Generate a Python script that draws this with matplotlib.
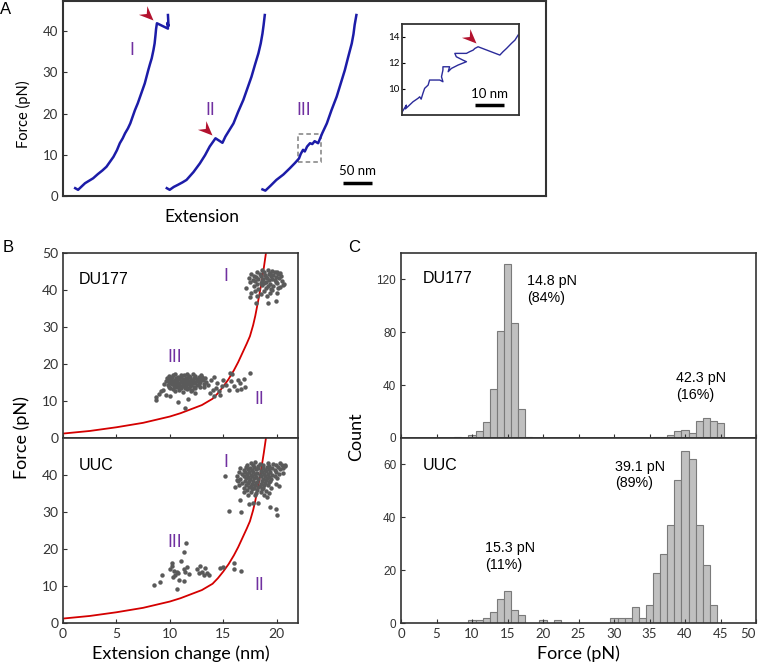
import numpy as np
import matplotlib.pyplot as plt
from matplotlib.patches import Rectangle
from matplotlib.path import Path

plt.rcParams['font.family'] = ['Lato', 'DejaVu Sans']

# ---------------- panel A: force-extension traces (nm, pN) ----------------
trace1_x = [21, 26, 32, 38, 45, 52, 60, 68, 75, 81, 87, 93, 98, 103, 107, 112, 116, 120, 124, 129,
            133, 137, 141, 144, 147, 150, 153, 156, 158, 159.5, 160.5, 162, 181, 180, 182, 181]
trace1_f = [1.9, 1.5, 2.3, 3.1, 3.7, 4.3, 5.3, 6.2, 7.1, 8.3, 9.5, 11.1, 12.8, 14.0, 15.2, 16.4,
            17.6, 19.2, 20.8, 22.5, 24.1, 25.7, 27.3, 28.9, 30.5, 32.0, 33.4, 35.4, 37.0, 39.0, 40.5,
            41.9, 40.6, 42.0, 41.2, 43.9]
trace2_x = [179, 184, 191, 198, 206, 213, 225, 236, 245, 253, 258, 263, 275, 280, 287, 294, 302,
            311, 318, 325, 331, 337, 341, 344, 346, 348]
trace2_f = [1.9, 1.5, 2.2, 2.7, 3.3, 3.9, 5.8, 7.9, 9.9, 12.0, 13.0, 14.0, 12.9, 14.4, 16.0, 17.6,
            20.4, 23.3, 26.1, 28.9, 31.8, 34.6, 37.0, 39.4, 41.5, 43.9]
trace3_x = [344, 349, 358, 368, 380, 391, 400, 407, 410, 414, 417, 421, 426, 430, 434, 440, 447,
            455, 463, 472, 479, 486, 492, 498, 501, 503, 506]
trace3_f = [1.6, 1.3, 2.5, 3.9, 5.2, 6.7, 8.0, 9.1, 10.2, 11.2, 10.8, 12.0, 12.8, 12.6, 13.3, 12.8,
            15.2, 17.6, 20.8, 24.1, 27.3, 30.5, 33.8, 37.0, 39.3, 41.5, 43.9]

# inset: zoom of the boxed region of trace III
inset_x = [0.1, 1.5, 1.2, 3.8, 5.5, 6.1, 6.6, 7.2, 7.8, 9.0, 9.5, 13.0, 14.1, 13.6, 14.1, 14.1, 16.4,
           15.9, 17.0, 19.3, 22.2, 21.0, 18.7, 18.2, 22.2, 23.3, 24.5, 25.1, 26.2, 33.7, 34.8, 36.0,
           37.7, 38.9, 40.0]
inset_f = [8.23, 8.74, 8.45, 9.0, 9.26, 9.38, 9.2, 9.64, 10.03, 10.28, 10.67, 10.67, 10.54, 10.92,
           11.44, 11.69, 11.69, 11.31, 11.56, 11.82, 12.08, 12.2, 12.46, 12.72, 12.72, 12.85, 12.97,
           13.1, 13.23, 12.59, 12.85, 13.1, 13.49, 13.74, 14.13]

# ---------------- panel B: rupture events (extension change nm, force pN) ----------------
wlc_x = [0, 2.5, 5, 7.5, 10, 11, 12, 13, 14, 14.5, 15, 15.5, 16, 16.4, 16.8, 17.2, 17.5, 17.8,
         18.0, 18.2, 18.4, 18.6, 18.8, 19.0]
wlc_f = [1.2, 1.9, 2.9, 4.1, 5.8, 6.7, 7.8, 8.9, 10.6, 12.1, 13.9, 15.9, 18.3, 20.5, 23.0, 25.5,
         27.5, 30.5, 33.0, 36.0, 39.0, 42.3, 46.0, 50.0]

du177_pts = [
    (17.1, 40.5), (17.5, 38.0), (18.1, 36.5), (19.9, 37.1), (20.6, 41.4), (20.0, 45.0), (18.6, 45.5),
    (19.2, 45.3), (19.6, 45.1), (18.2, 44.8), (18.8, 44.9), (19.4, 44.6), (19.8, 44.8), (20.3, 44.7),
    (17.6, 44.2), (18.4, 44.4), (18.9, 44.1), (19.3, 44.3), (19.7, 44.0), (20.1, 44.4),
    (17.9, 43.7), (18.5, 43.9), (19.0, 43.6), (19.5, 43.8), (19.9, 43.5), (20.4, 43.9),
    (17.4, 43.2), (18.1, 43.4), (18.7, 43.1), (19.1, 43.3), (19.6, 43.0), (20.2, 43.2),
    (17.8, 42.7), (18.3, 42.9), (18.6, 42.5), (19.3, 42.8), (19.8, 42.6),
    (17.5, 42.2), (18.0, 42.4), (18.5, 42.0), (19.0, 42.2), (19.9, 42.1), (20.5, 42.3),
    (18.2, 41.7), (18.8, 41.9), (19.4, 41.6), (20.0, 41.8), (20.7, 41.5),
    (17.9, 41.1), (18.6, 41.3), (19.2, 41.0), (19.7, 41.2), (20.3, 40.9),
    (18.3, 40.4), (19.0, 40.6), (19.5, 40.2), (20.1, 40.5),
    (18.0, 39.8), (18.8, 39.6), (19.6, 39.9), (17.6, 39.2), (18.5, 39.0), (19.4, 39.3), (20.0, 39.1),
    (18.2, 38.3), (19.1, 38.5), (19.2, 36.6),
    # III cluster
    (10.5, 17.3), (11.0, 17.1), (11.6, 17.4), (12.2, 17.2), (12.9, 17.0),
    (9.9, 16.7), (10.3, 16.9), (10.8, 16.6), (11.3, 16.9), (11.8, 16.7), (12.4, 16.8), (13.0, 16.6),
    (9.7, 16.3), (10.2, 16.5), (10.6, 16.2), (11.0, 16.4), (11.5, 16.3), (11.9, 16.5), (12.3, 16.2),
    (12.7, 16.4), (13.3, 16.3),
    (9.8, 15.9), (10.1, 16.1), (10.5, 15.8), (10.9, 16.0), (11.2, 15.9), (11.6, 16.1), (12.0, 15.8),
    (12.5, 16.0), (12.9, 15.9),
    (9.6, 15.5), (10.0, 15.7), (10.4, 15.4), (10.7, 15.6), (11.1, 15.5), (11.4, 15.7), (11.8, 15.4),
    (12.2, 15.6), (12.6, 15.5), (13.1, 15.6),
    (9.9, 15.1), (10.3, 15.3), (10.6, 15.0), (11.0, 15.2), (11.3, 15.1), (11.7, 15.3), (12.1, 15.0),
    (12.4, 15.2), (12.8, 15.1),
    (9.5, 14.7), (10.1, 14.9), (10.4, 14.6), (10.8, 14.8), (11.2, 14.7), (11.5, 14.9), (11.9, 14.6),
    (12.3, 14.8), (12.7, 14.7), (13.2, 14.5),
    (9.8, 14.3), (10.2, 14.5), (10.6, 14.2), (10.9, 14.4), (11.3, 14.3), (11.6, 14.5), (12.0, 14.2),
    (12.5, 14.3),
    (9.9, 13.9), (10.4, 14.1), (10.8, 13.8), (11.1, 14.0), (11.5, 13.9), (11.9, 14.1), (12.3, 13.8),
    (12.8, 13.9),
    (10.0, 13.5), (10.6, 13.7), (11.0, 13.4), (11.4, 13.6), (11.8, 13.5), (12.4, 13.6),
    (9.4, 13.1), (10.3, 13.2), (10.9, 13.0), (11.6, 13.2), (12.1, 13.1),
    (9.2, 12.6), (10.5, 12.8), (11.2, 12.5), (12.0, 12.7),
    (8.7, 11.2), (8.7, 10.3), (10.8, 9.7), (11.4, 8.1), (11.7, 10.5), (9.6, 11.7), (10.0, 11.4),
    (12.4, 12.2), (9.0, 12.0),
    # II cluster
    (17.5, 17.6), (16.9, 15.9), (16.6, 14.9), (15.8, 17.3), (15.7, 15.3), (16.0, 14.0), (15.3, 14.4),
    (14.9, 14.0), (14.6, 12.6), (14.7, 11.7), (14.3, 13.5), (14.0, 13.1), (13.8, 12.2), (13.6, 14.4),
    (14.1, 11.3), (15.0, 15.8), (16.3, 13.1), (16.4, 15.8), (14.4, 14.9), (14.1, 16.6), (15.6, 17.6),
    (13.4, 15.2), (13.2, 13.7), (15.5, 12.9), (17.0, 13.8), (16.7, 13.2), (13.9, 15.6),
]

uuc_pts = [
    (17.6, 43.2), (18.0, 43.4), (18.4, 43.1), (19.2, 43.3), (19.7, 43.0), (20.3, 43.2),
    (17.2, 42.6), (17.8, 42.8), (18.3, 42.5), (18.7, 42.7), (19.3, 42.4), (19.9, 42.6), (20.5, 42.8), (20.8, 42.5),
    (16.6, 42.0), (17.1, 42.2), (17.5, 41.9), (17.9, 42.1), (18.3, 41.8), (18.7, 42.0), (19.1, 42.2),
    (19.6, 41.9), (20.1, 42.1), (20.6, 41.8),
    (16.9, 41.4), (17.3, 41.6), (17.7, 41.3), (18.1, 41.5), (18.5, 41.2), (18.9, 41.4), (19.3, 41.6),
    (19.8, 41.3), (20.3, 41.5),
    (16.5, 40.8), (17.0, 40.9), (17.4, 40.7), (17.8, 40.9), (18.2, 40.6), (18.6, 40.8), (19.0, 41.0),
    (19.4, 40.7), (19.9, 40.9), (20.6, 40.6),
    (16.8, 40.2), (17.2, 40.4), (17.6, 40.1), (18.0, 40.3), (18.4, 40.0), (18.8, 40.2), (19.2, 40.4),
    (19.6, 40.1), (20.2, 40.3),
    (16.3, 39.6), (16.9, 39.7), (17.3, 39.5), (17.7, 39.7), (18.1, 39.4), (18.5, 39.6), (18.9, 39.8),
    (19.3, 39.5), (19.8, 39.7),
    (16.6, 39.0), (17.1, 39.1), (17.5, 38.9), (17.9, 39.1), (18.3, 38.8), (18.7, 39.0), (19.1, 39.2),
    (19.5, 38.9), (20.0, 39.1),
    (16.4, 38.4), (17.0, 38.5), (17.4, 38.3), (17.8, 38.5), (18.2, 38.2), (18.6, 38.4), (19.0, 38.6),
    (19.4, 38.3),
    (16.8, 37.8), (17.3, 37.9), (17.7, 37.7), (18.1, 37.9), (18.5, 37.6), (18.9, 37.8), (19.3, 38.0),
    (19.9, 37.7),
    (16.5, 37.2), (17.1, 37.3), (17.6, 37.1), (18.0, 37.3), (18.4, 37.0), (18.8, 37.2), (19.2, 37.4),
    (16.9, 36.6), (17.4, 36.7), (17.9, 36.5), (18.3, 36.7), (18.7, 36.4), (19.5, 36.6),
    (17.2, 36.0), (17.7, 36.1), (18.2, 35.9), (18.6, 36.1), (19.0, 35.8),
    (16.9, 35.3), (17.6, 35.4), (18.1, 35.2), (18.5, 35.4), (19.3, 35.1),
    (17.3, 34.6), (18.0, 34.7), (18.8, 34.5),
    (15.2, 39.8), (15.5, 30.4), (16.7, 29.9), (19.4, 31.4), (19.9, 30.8), (20.0, 29.2), (16.6, 33.3),
    (17.4, 32.1), (17.8, 32.4), (18.3, 32.4), (19.1, 34.1), (20.2, 36.9), (20.8, 42.7), (16.3, 38.7),
    (16.1, 36.7),
    # III / II events
    (11.5, 21.5), (11.3, 19.1), (11.06, 16.7), (10.2, 16.1), (10.2, 15.4), (9.3, 13.1), (9.1, 11.1),
    (8.5, 10.2), (10.0, 14.5), (10.4, 14.1), (10.7, 13.8), (10.5, 12.9), (10.8, 13.4), (10.3, 12.5),
    (11.3, 14.7), (11.4, 13.8), (11.6, 15.2), (11.8, 13.2), (10.9, 11.6), (11.3, 11.4), (10.7, 9.3),
    (12.5, 14.5), (12.8, 15.4), (12.7, 13.4), (13.0, 13.8), (13.3, 15.0), (13.5, 13.6), (13.2, 12.9),
    (13.7, 12.9), (14.7, 15.0), (15.0, 15.2), (16.0, 16.1), (16.0, 14.7), (16.7, 14.0),
]

# ---------------- panel C: force histograms (1 pN bins) ----------------
du177_bins = [8, 10, 11, 12, 13, 14, 15, 16, 17, 18, 36, 37, 38, 39, 40, 41, 42, 43, 44, 45]
du177_counts = [1, 2, 5, 12, 37, 81, 132, 87, 22, 1, 1, 1, 2, 5, 6, 4, 13, 15, 13, 11]
uuc_bins = [10, 11, 12, 13, 14, 15, 16, 17, 20, 22, 30, 31, 32, 33, 34, 35, 36, 37, 38, 39, 40, 41, 42, 43, 44]
uuc_counts = [1, 1, 2, 4, 9, 12, 5, 3, 1, 1, 2, 2, 2, 6, 2, 7, 19, 26, 37, 54, 65, 62, 37, 22, 7]

blue = '#1c1ca8'
purple = '#7030a0'
arrow_red = '#b3122e'
spine_c = '#333333'
W, H = 761, 668


def box(l, t, r, b):
    return [l / W, 1 - b / H, (r - l) / W, (b - t) / H]


def arrow_head(angle):
    pts = np.array([[0, 0], [-1.0, 0.42], [-0.65, 0], [-1.0, -0.42], [0, 0]])
    a = np.deg2rad(angle)
    rot = np.array([[np.cos(a), -np.sin(a)], [np.sin(a), np.cos(a)]])
    return Path(pts @ rot.T, [Path.MOVETO, Path.LINETO, Path.LINETO, Path.LINETO, Path.CLOSEPOLY])


def style(ax, lw=1.2):
    for s in ax.spines.values():
        s.set_linewidth(lw)
        s.set_color(spine_c)


fig = plt.figure(figsize=(7.61, 6.68), dpi=100)

# --- A ---
axA = fig.add_axes(box(63, 1, 546, 196))
for tx, tf in [(trace1_x, trace1_f), (trace2_x, trace2_f), (trace3_x, trace3_f)]:
    axA.plot(tx, tf, color=blue, lw=1.8, solid_joinstyle='round')
axA.plot([155.7, 256.3], [42.8, 14.8], ls='none', marker=arrow_head(-44), ms=21,
         color=arrow_red, mec='none')
axA.add_patch(Rectangle((405, 8.2), 40, 6.8, fill=False, ec='#808080', lw=1.1, ls=(0, (3, 2))))
axA.plot([483, 533], [3.2, 3.2], color='black', lw=2.5, solid_capstyle='butt')
axA.text(508, 4.5, '50 nm', ha='center', va='bottom', fontsize=9.5)
for lab, xx, yy in [('I', 118, 35.4), ('II', 254.6, 20.8), ('III', 415.5, 20.8)]:
    axA.text(xx, yy, lab, color=purple, ha='center', va='center', fontsize=12.5)
axA.set_xlim(0, 833)
axA.set_ylim(0, 47.3)
axA.set_xticks([])
axA.set_yticks([0, 10, 20, 30, 40])
axA.tick_params(axis='y', direction='in', length=3, labelsize=9.5, colors=spine_c)
style(axA, 1.5)

axI = fig.add_axes(box(402, 24, 519, 115))
axI.plot(inset_x, inset_f, color='#2b2b9a', lw=1.0)
axI.plot([25.4], [13.54], ls='none', marker=arrow_head(-44), ms=21, color=arrow_red, mec='none')
axI.plot([25.2, 35.2], [8.75, 8.75], color='black', lw=2.5, solid_capstyle='butt')
axI.text(30.2, 9.1, '10 nm', ha='center', va='bottom', fontsize=9.5)
axI.set_xlim(0, 40.3)
axI.set_ylim(7.98, 14.98)
axI.set_xticks([])
axI.set_yticks([10, 12, 14])
axI.tick_params(axis='y', direction='in', length=2.5, labelsize=7, pad=2)
style(axI, 1.3)

fig.text(23 / W, 1 - 114 / H, 'Force (pN)', rotation=90, ha='center', va='center', fontsize=10.5)
fig.text(202 / W, 1 - 217 / H, 'Extension', ha='center', va='center', fontsize=12.5)

# --- B ---
axB1 = fig.add_axes(box(63, 253, 298, 438))
axB2 = fig.add_axes(box(63, 438, 298, 623))
for ax, pts, name, lbl_y in [(axB1, du177_pts, 'DU177', [43.7, 21.8, 10.6]),
                             (axB2, uuc_pts, 'UUC', [43.5, 21.9, 10.2])]:
    ax.plot(wlc_x, wlc_f, color='#d40000', lw=1.3, zorder=2)
    px, py = zip(*pts)
    ax.plot(px, py, 'o', ms=3.2, color='#5a5a5a', mec='none', zorder=3)
    ax.text(1.45, lbl_y[0] - 0.8, name, ha='left', va='center', fontsize=11.5, family='Liberation Sans')
    ax.text(15.2, lbl_y[0], 'I', color=purple, ha='center', va='center', fontsize=12.5)
    ax.text(10.5, lbl_y[1], 'III', color=purple, ha='center', va='center', fontsize=12.5)
    ax.text(18.4, lbl_y[2], 'II', color=purple, ha='center', va='center', fontsize=12.5)
    ax.set_xlim(0, 22)
    ax.set_ylim(0, 50)
    ax.set_xticks([0, 5, 10, 15, 20])
    ax.tick_params(direction='in', length=3, labelsize=10, colors=spine_c)
    style(ax)
axB1.set_yticks([0, 10, 20, 30, 40, 50])
axB1.tick_params(labelbottom=False)
axB2.set_yticks([0, 10, 20, 30, 40])
axB2.set_xlabel('Extension change (nm)', fontsize=13, labelpad=4)
fig.text(22 / W, 1 - 438 / H, 'Force (pN)', rotation=90, ha='center', va='center', fontsize=13)

# --- C ---
axC1 = fig.add_axes(box(401, 253, 756, 438))
axC2 = fig.add_axes(box(401, 438, 756, 623))
axC1.bar(du177_bins, du177_counts, width=1, color='#c0c0c0', edgecolor='#7a7a7a', lw=0.8)
axC2.bar(uuc_bins, uuc_counts, width=1, color='#c0c0c0', edgecolor='#7a7a7a', lw=0.8)
arial = 'Liberation Sans'
axC1.text(3.06, 121, 'DU177', ha='left', va='center', fontsize=11.5, family=arial)
axC1.text(17.7, 124, '14.8 pN\n(84%)', ha='left', va='top', fontsize=10.3, family=arial, linespacing=1.25)
axC1.text(38.8, 50.5, '42.3 pN\n(16%)', ha='left', va='top', fontsize=10.3, family=arial, linespacing=1.25)
axC2.text(3.06, 59.5, 'UUC', ha='left', va='center', fontsize=11.5, family=arial)
axC2.text(30.1, 61.8, '39.1 pN\n(89%)', ha='left', va='top', fontsize=10.3, family=arial, linespacing=1.25)
axC2.text(11.9, 31, '15.3 pN\n(11%)', ha='left', va='top', fontsize=10.3, family=arial, linespacing=1.25)
for ax in (axC1, axC2):
    ax.set_xlim(0, 50)
    ax.set_xticks(range(0, 51, 5))
    ax.tick_params(direction='in', length=3, colors=spine_c)
    ax.tick_params(axis='x', labelsize=9.5)
    style(ax)
axC1.set_ylim(0, 140)
axC1.set_yticks([0, 40, 80, 120])
axC1.tick_params(labelbottom=False)
axC2.set_ylim(0, 70)
axC2.set_yticks([0, 20, 40, 60])
for ax in (axC1, axC2):
    ax.tick_params(axis='y', labelsize=8.5)
    for t in ax.get_yticklabels():
        t.set_family(arial)
axC2.get_xticklabels()[-1].set_horizontalalignment('right')
axC2.set_xlabel('Force (pN)', fontsize=13, labelpad=4)
fig.text(356 / W, 1 - 437 / H, 'Count', rotation=90, ha='center', va='center', fontsize=13)

# panel letters
for lab, xx, yy in [('A', 6, 9), ('B', 8, 248), ('C', 354, 248)]:
    fig.text(xx / W, 1 - yy / H, lab, ha='center', va='center', fontsize=12, family=arial)

fig.savefig('out.png', dpi=100)
